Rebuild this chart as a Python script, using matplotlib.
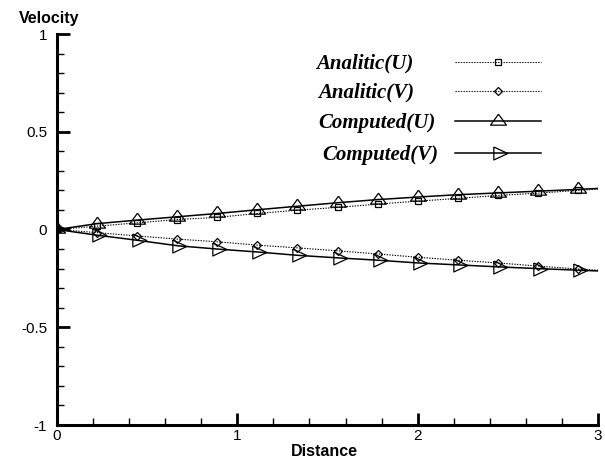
import matplotlib
matplotlib.use("Agg")
import matplotlib.pyplot as plt
from matplotlib.lines import Line2D
from matplotlib.ticker import MultipleLocator, FixedLocator

plt.rcParams['axes.unicode_minus'] = False
plt.rcParams['font.family'] = ['Liberation Sans', 'DejaVu Sans']

# ---- data ----
distance = [0.0, 0.222, 0.444, 0.667, 0.889, 1.111, 1.333, 1.556, 1.778,
            2.0, 2.222, 2.444, 2.667, 2.889, 3.0]
analytic_u = [0.0, 0.017, 0.034, 0.051, 0.062, 0.082, 0.099, 0.113, 0.130,
              0.145, 0.159, 0.174, 0.186, 0.200, 0.207]
analytic_v = [0.0, -0.016, -0.033, -0.049, -0.063, -0.080, -0.094, -0.109,
              -0.125, -0.142, -0.157, -0.171, -0.187, -0.202, -0.208]
computed_u = [0.0, 0.030, 0.048, 0.065, 0.082, 0.101, 0.119, 0.137, 0.153,
              0.166, 0.178, 0.187, 0.196, 0.205, 0.210]
computed_v = [0.0, -0.029, -0.055, -0.083, -0.100, -0.115, -0.132, -0.145,
              -0.157, -0.171, -0.181, -0.191, -0.200, -0.208, -0.212]
series_labels = ['Analitic(U)', 'Analitic(V)', 'Computed(U)', 'Computed(V)']
x_ticks = [0, 1, 2, 3]
x_tick_labels = ['0', '1', '2', '3']
y_ticks = [-1, -0.5, 0, 0.5, 1]
y_tick_labels = ['-1', '-0.5', '0', '0.5', '1']

# ---- markers centred at the centroid (Tecplot style) ----
tri_up = [(0, 7.33), (-8, -3.67), (8, -3.67), (0, 7.33)]
tri_right = [(-4.67, 6.5), (9.33, 0), (-4.67, -6.5), (-4.67, 6.5)]

W, H, DPI = 605, 461, 100
fig = plt.figure(figsize=(W / DPI, H / DPI), dpi=DPI)
ax = fig.add_axes([57 / W, (H - 425) / H, (598 - 57) / W, (425 - 34) / H])

n = len(distance) - 1
mk_every = list(range(n))

styles = [
    dict(color='black', lw=0.8, ls=(0, (1.2, 1.2)), marker='s', ms=5,
         mfc='none', mec='black', mew=0.9),
    dict(color='black', lw=0.8, ls=(0, (1.2, 1.2)), marker='D', ms=3.8,
         mfc='none', mec='black', mew=0.9),
    dict(color='black', lw=1.1, ls='-', marker=tri_up, ms=11.5,
         mfc='none', mec='black', mew=0.9),
    dict(color='black', lw=1.1, ls='-', marker=tri_right, ms=13.4,
         mfc='none', mec='black', mew=0.9),
]
series = [analytic_u, analytic_v, computed_u, computed_v]
for vals, st, lab in zip(series, styles, series_labels):
    ax.plot(distance, vals, markevery=mk_every, label=lab, **st)

ax.set_xlim(0, 3)
ax.set_ylim(-1, 1)
for s in ['top', 'right']:
    ax.spines[s].set_visible(False)
for s in ['left', 'bottom']:
    ax.spines[s].set_linewidth(2.2)

ax.xaxis.set_major_locator(FixedLocator(x_ticks))
ax.set_xticklabels(x_tick_labels)
ax.yaxis.set_major_locator(FixedLocator(y_ticks))
ax.set_yticklabels(y_tick_labels)
ax.xaxis.set_minor_locator(MultipleLocator(0.2))
ax.yaxis.set_minor_locator(MultipleLocator(0.1))
ax.tick_params(which='major', direction='in', length=9, width=2,
               labelsize=11)
ax.tick_params(which='minor', direction='in', length=5, width=1)
ax.tick_params(axis='y', which='major', pad=7)
ax.tick_params(axis='x', which='major', pad=3)

fig.text(49 / W, 1 - 18 / H, 'Velocity', fontsize=11.5, fontweight='bold',
         ha='center', va='center')
fig.text(324 / W, 1 - 451 / H, 'Distance', fontsize=11.5, fontweight='bold',
         ha='center', va='center')

# ---- legend (label on the left, sample on the right) ----
leg_rows_y = [61.7, 90.5, 121.3, 152.8]
leg_text_cx = [365, 366.5, 376.5, 380.5]
for lab, st, yy, cx in zip(series_labels, styles, leg_rows_y, leg_text_cx):
    fig.text(cx / W, 1 - (yy + 2) / H, lab, family='Liberation Serif',
             fontweight='bold', style='italic', fontsize=15,
             ha='center', va='center')
    fy = 1 - yy / H
    sample = Line2D([455 / W, 498 / W, 541 / W], [fy, fy, fy],
                    transform=fig.transFigure, markevery=[1], **st)
    fig.add_artist(sample)

fig.savefig('out.png', dpi=DPI)
